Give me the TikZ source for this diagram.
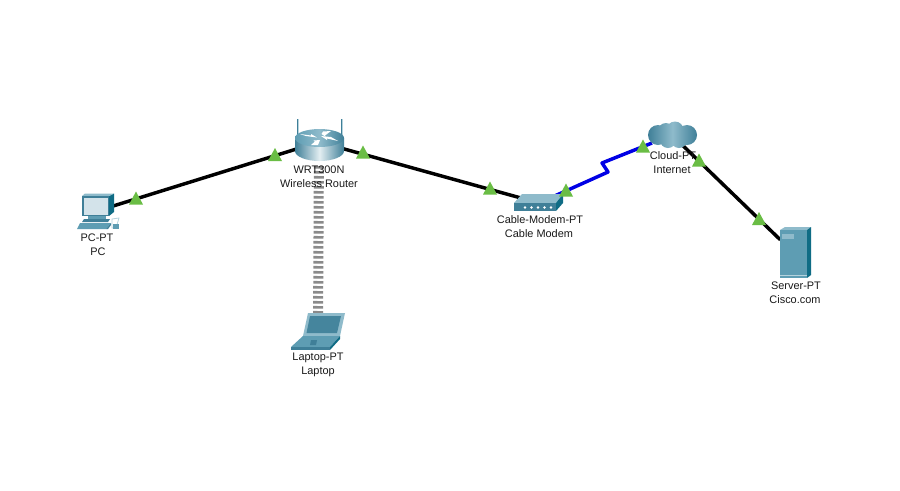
\documentclass[tikz,border=0pt]{standalone}
\usepackage{fontspec}
\setmainfont{Liberation Sans}
\definecolor{tealA}{HTML}{5E9DB3}
\definecolor{tealB}{HTML}{8FBBCB}
\definecolor{tealC}{HTML}{3F7F98}
\definecolor{tealD}{HTML}{0F6C85}
\definecolor{tealE}{HTML}{B5D3DD}
\definecolor{scr}{HTML}{D3E3EA}
\definecolor{mark}{HTML}{6ABD45}
\definecolor{wifi}{HTML}{8A8A8A}
\tikzset{
  devicebox/.style={inner sep=0pt,outer sep=0pt},
  wire/.style={line width=2.6pt,black},
  fiberlink/.style={line width=2.6pt,blue!90!black,line join=round},
  wireless/.style={line width=7.5pt,wifi,dash pattern=on 1.9pt off 1.85pt},
  lbl/.style={font=\fontsize{8.2pt}{10pt}\selectfont,inner sep=0pt,text=black!90},
  linkmark/.style={fill=mark},
  front/.style={fill=tealA},
  side/.style={fill=tealD},
  top/.style={fill=tealB},
}
\begin{document}
\begin{tikzpicture}[x=0.75pt,y=-0.75pt]
\useasboundingbox (0,0) rectangle (900,490);
\fill[white] (0,0) rectangle (900,490);
% anchors for the devices
\node[devicebox,minimum width=22pt,minimum height=20pt] (pc) at (97,211) {};
\node[devicebox,minimum width=20pt,minimum height=36pt] (router) at (319,142) {};
\node[devicebox,minimum width=30pt,minimum height=27pt] (laptop) at (318,331) {};
\node[devicebox,minimum width=28pt,minimum height=10pt] (modem) at (539,203) {};
\node[devicebox,minimum width=30pt,minimum height=16pt] (cloud) at (672,135) {};
\node[devicebox,minimum width=22pt,minimum height=36pt] (server) at (795,254) {};
\coordinate (b1) at (608,172);
\coordinate (b2) at (602,163);
% connectors
\draw[wire] (pc) -- (router);
\draw[wire] (router) -- (modem);
\draw[wire] (cloud) -- (server);
\draw[fiberlink] (modem) -- (b1) -- (b2) -- (cloud);
\draw[wireless] (router) -- (laptop);
% antennas
\draw[tealE,line width=1.4pt] (298,119) -- (298,136);
\draw[tealE,line width=1.4pt] (342,119) -- (342,136);
\draw[tealC,line width=.4pt] (296.8,119) -- (296.8,136) (340.8,119) -- (340.8,136);
% router
\shade[left color=tealC,right color=tealC,middle color=white!75!tealB]
  (295,138) -- (295,151) arc[start angle=180,end angle=0,x radius=24.5,y radius=10] -- (344,138) -- cycle;
\shade[left color=tealA,right color=tealC,middle color=tealB] (319.5,138) ellipse[x radius=24.5,y radius=9];
\fill[white] (300,134) -- (311,135.5) -- (311,134) -- (317,137.5) -- (306,136) -- cycle;
\fill[white] (338,141) -- (327,138.5) -- (327,140) -- (321,136) -- (331,137) -- cycle;
\fill[white] (323,131.5) -- (331,131) -- (327,134) -- (324.5,136) -- (321.5,134) -- cycle;
\fill[white] (311,145) -- (315,141.5) -- (313.5,140.5) -- (320,140) -- (318,145) -- cycle;
% pc
\fill[side] (109,196) -- (114,193.5) -- (114,212) -- (109,216) -- cycle;
\fill[top] (82,196) -- (85,193.5) -- (114,193.5) -- (109,196) -- cycle;
\fill[tealC] (82,196) rectangle (109,216);
\fill[scr] (84,198) rectangle (108,214.5);
\fill[tealA] (88,216) rectangle (106,219);
\fill[tealC] (84,219) -- (110,219) -- (108,222) -- (82,222) -- cycle;
\fill[tealA] (80,223) -- (111,223) -- (106,229) -- (77,229) -- cycle;
\fill[tealC] (106,229) -- (111,223) -- (111,225) -- (108,229) -- cycle;
\draw[tealE,line width=.6pt] (112,219) -- (119,218) -- (116,228) -- (112,228) -- cycle;
\fill[tealA] (113,224) rectangle (119,229);
% laptop
\fill[tealB] (303,336) -- (308,313) -- (345,313) -- (340,336) -- cycle;
\fill[tealC!80!tealA] (306.5,333) -- (310,316) -- (341,316) -- (337,333) -- cycle;
\fill[tealA] (291,347) -- (303,336) -- (340,336) -- (330,347) -- cycle;
\fill[tealC] (291,347) rectangle (330,350);
\fill[side] (330,350) -- (330,347) -- (340,336) -- (340,339) -- cycle;
\fill[tealC] (311,340) -- (317,340) -- (316,345) -- (310,345) -- cycle;
% modem
\fill[top] (514,203) -- (522,194) -- (563,194) -- (556,203) -- cycle;
\fill[side] (556,203) -- (563,194) -- (563,203) -- (556,211) -- cycle;
\fill[tealC] (514,203) rectangle (556,211);
\foreach \dx in {0,1,2,3,4}
  \fill[white] (525+6.5*\dx,207.5) circle[radius=1.3];
% cloud
\shade[left color=tealC,right color=tealC,middle color=tealB]
  (658,135) circle[radius=10] (666,131) circle[radius=8] (675,130) circle[radius=8.5]
  (687,135) circle[radius=10] (668,140) circle[radius=8] (679,140) circle[radius=8];
% server
\fill[top] (780,230) -- (785,227) -- (811,227) -- (807,230) -- cycle;
\fill[side] (807,230) -- (811,227) -- (811,275) -- (807,278) -- cycle;
\fill[tealA] (780,230) rectangle (807,278);
\fill[tealB] (782,234) rectangle (794,239);
\fill[tealE] (780,275) rectangle (807,276);
% labels
\node[lbl] (l1) at (97,238) {PC-PT};
\node[lbl] (l2) at (98,252) {PC};
\node[lbl] (l3) at (319,170) {WRT300N};
\node[lbl] (l4) at (319,184) {Wireless Router};
\node[lbl] (l5) at (318,358) {Laptop-PT};
\node[lbl] (l6) at (318,372) {Laptop};
\node[lbl] (l7) at (540,220) {Cable-Modem-PT};
\node[lbl] (l8) at (539,234) {Cable Modem};
\node[lbl] (l9) at (673,156) {Cloud-PT};
\node[lbl] (l10) at (672,170) {Internet};
\node[lbl] (l11) at (796,286) {Server-PT};
\node[lbl] (l12) at (795,300) {Cisco.com};
% link state triangles
\foreach \x/\y in {136/198,275/154.5,363/152,490/188,566/190,643/146,699/160,759/218.5}
  \fill[linkmark] (\x-7,\y+6.5) -- (\x,\y-6.5) -- (\x+7,\y+6.5) -- cycle;
\end{tikzpicture}
\end{document}
